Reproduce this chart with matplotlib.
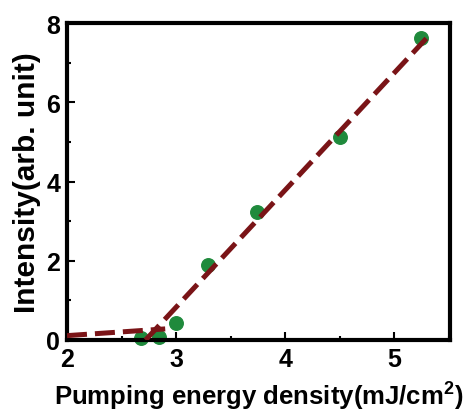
import matplotlib.pyplot as plt
from matplotlib.ticker import MultipleLocator

# measured points
energy = [2.68, 2.84, 3.0, 3.29, 3.74, 4.5, 5.24]
intensity = [0.06, 0.08, 0.43, 1.9, 3.24, 5.13, 7.62]

# linear fits below / above threshold
fit_low_x = [2.0, 2.9]
fit_low_y = [0.11, 0.28]
fit_high_x = [2.72, 5.31]
fit_high_y = [0.0, 7.66]

plt.rcParams['font.family'] = ['Liberation Sans', 'DejaVu Sans']
plt.rcParams['font.weight'] = 'bold'
plt.rcParams['mathtext.fontset'] = 'custom'
plt.rcParams['mathtext.bf'] = 'Liberation Sans:bold'
plt.rcParams['mathtext.rm'] = 'Liberation Sans:bold'

fig = plt.figure(figsize=(4.71, 4.14), dpi=100)
ax = fig.add_axes([67 / 471, 73 / 414, 383 / 471, 317 / 414])

red = '#7a1417'
ax.plot(fit_low_x, fit_low_y, '--', color=red, lw=3.6, dashes=(4, 1.6), zorder=3)
ax.plot(fit_high_x, fit_high_y, '--', color=red, lw=3.6, dashes=(4, 1.6), zorder=3)
ax.scatter(energy, intensity, s=95, color='#1f8a3c', zorder=2, clip_on=False)

ax.set_xlim(2, 5.51)
ax.set_ylim(0, 8)
ax.xaxis.set_major_locator(MultipleLocator(1))
ax.xaxis.set_minor_locator(MultipleLocator(0.5))
ax.yaxis.set_major_locator(MultipleLocator(2))
ax.yaxis.set_minor_locator(MultipleLocator(1))
ax.tick_params(which='both', direction='in', width=1.5, labelsize=18, pad=5)
ax.tick_params(which='major', length=6)
ax.tick_params(which='minor', length=3)
for s in ax.spines.values():
    s.set_linewidth(3)

ax.set_xlabel('Pumping energy density(mJ/cm$^{\\mathbf{2}}$)', fontsize=18.5, fontweight='bold', labelpad=5)
ax.set_ylabel('Intensity(arb. unit)', fontsize=21.5, fontweight='bold', labelpad=4)

fig.savefig('out.png', dpi=100)
